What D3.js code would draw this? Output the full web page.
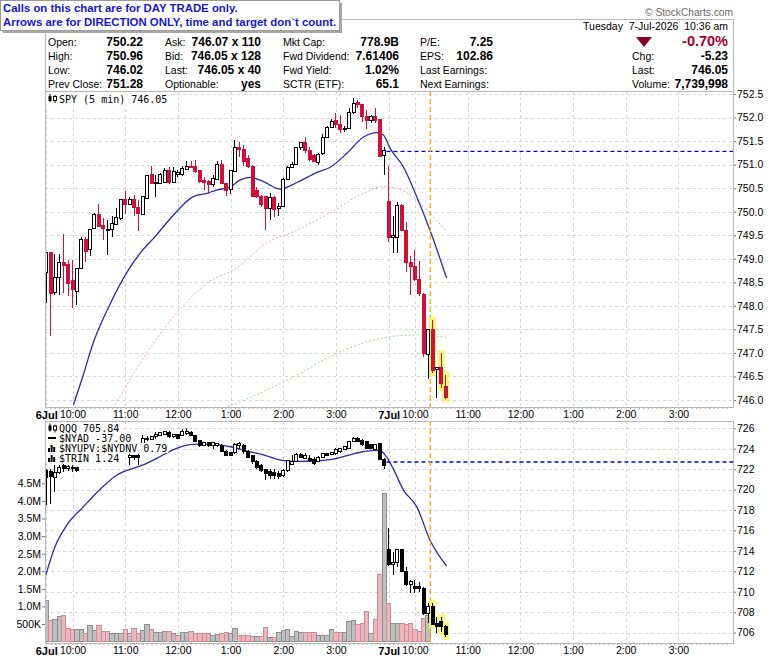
<!DOCTYPE html>
<html lang="en">
<head>
<meta charset="UTF-8">
<title>SPY 5 min - day trade chart</title>
<style>
body { margin: 0; background: #fff; }
svg text { font-family: 'Liberation Sans', Arial, sans-serif; }
.mono { font-family: 'DejaVu Sans Mono', monospace; font-size: 10px; }
</style>
</head>
<body>
<div id="vis"></div>
<script src="https://d3js.org/d3.v7.min.js"></script>
<script>

// ---- data ----
// bar index t = number of 5-minute bars since 6 Jul 9:30 (7 Jul 9:30 = 78)

// SPY 5 min candles [open, high, low, close]
const spyOHLC = [
[748.71,749.14,748.06,749.14],[749.14,749.14,747.37,748.27],[748.28,749.10,748.23,748.61],[748.61,749.10,748.23,748.93],
[748.93,749.53,748.27,748.86],[748.87,748.98,748.21,748.48],[748.53,748.98,747.95,748.34],[748.30,748.80,748.02,748.80],
[748.80,749.47,748.80,749.40],[749.40,749.47,748.94,749.15],[749.19,749.63,749.05,749.63],[749.65,749.98,749.63,749.93],
[749.93,750.16,749.67,749.68],[749.70,749.86,749.40,749.64],[749.62,749.82,749.07,749.63],[749.63,749.90,749.47,749.75],
[749.73,750.07,749.72,749.88],[749.86,750.26,749.82,750.26],[750.26,750.43,749.95,750.16],[750.16,750.32,750.15,750.25],
[750.25,750.35,749.91,750.09],[750.09,750.25,749.58,749.97],[749.95,750.33,749.95,750.33],[750.28,750.78,750.28,750.77],
[750.78,750.96,750.59,750.60],[750.59,750.78,750.32,750.62],[750.60,750.82,750.58,750.80],[750.62,750.92,750.60,750.87],
[750.87,750.94,750.59,750.62],[750.62,750.94,750.60,750.85],[750.80,750.89,750.74,750.83],[750.80,750.97,750.76,750.92],
[750.90,751.08,750.89,750.97],[750.97,751.08,750.92,750.94],[750.97,751.10,750.83,750.85],[750.87,750.89,750.60,750.64],
[750.67,750.74,750.46,750.62],[750.64,750.67,750.37,750.57],[750.58,750.78,750.53,750.71],[750.69,751.08,750.67,751.01],
[751.01,751.10,750.59,750.60],[750.60,750.62,750.33,750.46],[750.48,750.89,750.37,750.87],[750.85,751.52,750.85,751.37],
[751.37,751.47,751.17,751.33],[751.33,751.42,750.96,751.06],[751.13,751.20,750.92,750.97],[750.97,750.99,750.32,750.32],
[750.46,750.53,750.30,750.32],[750.32,750.35,750.10,750.15],[750.32,750.33,749.61,750.07],[750.07,750.39,749.82,750.31],
[750.31,750.33,749.88,750.05],[750.07,750.18,749.91,750.12],[750.12,750.71,750.10,750.69],[750.69,750.96,750.67,750.94],
[750.94,751.06,750.92,751.01],[751.01,751.38,750.99,751.37],[751.37,751.47,751.30,751.47],[751.47,751.59,751.24,751.31],
[751.31,751.37,751.08,751.10],[751.20,751.22,751.06,751.06],[751.04,751.24,750.99,751.22],[751.23,751.66,751.20,751.58],
[751.58,751.82,751.56,751.79],[751.79,751.96,751.77,751.91],[751.93,752.10,751.77,751.86],[751.86,752.05,751.68,751.75],
[751.74,751.82,751.70,751.77],[751.77,752.20,751.75,752.10],[752.10,752.41,752.08,752.29],[752.32,752.37,752.20,752.27],
[752.27,752.29,751.91,752.02],[752.03,752.16,751.75,751.93],[751.93,752.05,751.88,752.03],[752.03,752.20,751.88,751.93],
[751.95,751.96,751.17,751.18],[751.20,751.38,750.78,751.29],
[750.22,750.96,749.36,749.45],[749.45,749.91,749.13,749.49],[749.46,750.21,749.13,750.14],[750.14,750.16,749.58,749.60],
[749.59,749.79,748.71,748.92],[748.92,749.05,748.23,748.83],[748.83,749.19,748.53,748.57],[748.57,748.96,748.21,748.27],
[748.25,748.27,746.92,746.99],[746.97,747.49,746.44,747.49],[747.49,747.70,746.57,746.62],[746.64,746.70,746.04,746.70],
[746.70,746.99,746.25,746.36],[746.29,746.53,746.02,746.05]
];

// QQQ 5 min candles [open, high, low, close]
const qqqOHLC = [
[721.88,722.00,718.46,721.23],[721.80,722.05,718.62,721.30],[721.23,722.44,719.76,721.72],[721.72,722.44,721.56,722.21],
[722.37,722.54,721.72,722.05],[722.05,722.44,721.79,722.30],[722.21,722.37,721.72,722.05],[722.21,722.21,721.72,721.88],
[722.70,723.90,722.65,723.60],[723.60,724.30,723.40,724.10],[724.10,724.40,723.70,723.90],[723.90,724.60,723.80,724.40],
[724.40,725.00,724.30,724.80],[724.80,725.00,724.20,724.40],[724.40,724.60,723.90,724.10],[724.10,724.50,723.90,724.30],
[724.30,724.50,723.80,724.00],[724.00,724.40,723.80,724.20],[724.20,724.80,723.70,723.80],[723.19,723.52,722.37,723.35],
[723.35,723.42,722.86,723.19],[723.35,723.48,722.37,723.16],[724.20,725.31,723.90,725.05],[725.05,725.20,724.80,724.92],
[724.92,725.25,724.85,725.20],[725.20,725.64,725.00,725.38],[725.31,725.60,725.20,725.57],[725.44,725.70,725.30,725.64],
[725.57,725.70,725.05,725.15],[725.15,725.44,725.05,725.38],[725.38,725.45,724.98,725.05],[725.31,725.96,725.25,725.64],
[725.47,726.00,725.35,725.64],[725.57,725.70,725.20,725.25],[725.25,725.31,724.66,724.72],[724.82,724.90,724.20,724.33],
[724.33,724.66,724.25,724.59],[724.59,724.66,724.20,724.27],[724.27,724.66,724.00,724.59],[724.33,724.50,724.17,724.50],
[724.27,724.50,723.68,723.75],[723.68,723.84,723.26,723.35],[723.61,723.70,723.26,723.35],[723.61,724.59,723.52,724.40],
[724.27,724.66,724.01,724.50],[724.27,724.50,723.52,723.68],[723.75,723.84,723.09,723.19],[723.35,723.42,722.54,722.77],
[722.77,722.86,722.05,722.21],[722.37,722.54,721.72,721.88],[721.98,722.05,720.91,721.56],[721.79,722.05,721.07,721.39],
[721.72,722.05,721.07,721.39],[721.56,721.79,721.00,721.33],[721.39,722.05,721.23,721.88],[721.88,722.86,721.70,722.86],
[722.44,723.42,722.37,722.77],[722.77,723.61,722.70,723.42],[723.42,723.61,723.09,723.19],[723.09,723.61,722.96,723.35],
[723.09,723.35,722.70,722.86],[722.96,723.19,722.44,722.54],[722.77,723.26,722.70,723.19],[723.19,723.52,723.09,723.52],
[723.52,723.61,723.26,723.35],[723.42,723.70,723.35,723.61],[723.52,724.07,723.35,723.94],[723.68,724.10,723.60,724.01],
[723.94,724.30,723.90,724.17],[724.07,724.75,724.00,724.72],[724.72,725.15,724.66,725.05],[724.98,725.10,724.66,724.72],
[724.82,724.92,724.27,724.40],[724.66,724.72,723.94,724.01],[724.40,724.50,723.94,724.01],[723.94,724.50,723.84,724.40],
[724.50,724.59,722.86,722.96],[722.96,723.09,722.05,722.37],
[714.09,716.21,712.50,712.62],[712.62,713.92,711.64,712.84],[712.84,714.15,712.45,714.09],[714.09,714.20,711.90,711.96],
[711.96,712.45,710.60,710.66],[710.66,711.15,709.85,710.98],[710.50,711.15,709.90,710.34],[710.50,710.98,710.00,710.34],
[710.34,710.50,707.70,707.89],[707.89,708.87,706.91,708.54],[708.60,708.90,706.70,706.75],[706.90,707.56,705.93,706.60],
[707.07,707.56,706.09,706.58],[706.58,706.75,705.60,705.84]
];

// SPY volume per bar, millions
const spyVolume = [
1.18,0.59,0.64,0.70,0.73,0.38,0.33,0.35,0.35,0.24,
0.45,0.31,0.46,0.30,0.30,0.22,0.24,0.24,0.35,0.24,
0.38,0.24,0.31,0.49,0.33,0.26,0.26,0.30,0.28,0.24,
0.17,0.26,0.25,0.30,0.24,0.24,0.22,0.22,0.17,0.19,
0.22,0.26,0.24,0.38,0.18,0.17,0.17,0.14,0.14,0.14,
0.40,0.11,0.11,0.26,0.31,0.33,0.14,0.28,0.25,0.25,
0.25,0.25,0.18,0.18,0.18,0.33,0.26,0.26,0.26,0.57,
0.59,0.49,0.52,0.85,0.22,0.64,1.91,4.20,1.09,0.52,
0.52,0.52,0.49,0.52,0.35,0.28,0.66,0.75
];

// moving averages, sampled [bar, value]
const spyMaT = [6.2,8.1,10.7,14.1,18.7,21.4,24.8,29.0,33.5,36.6,38.8,41.9,44.1,46.4,49.5,53.3,57.1,61.6,64.6,68.5,72.2,75.3,76.8,78.3,81.3,84.4,87.4,91.2];
const spyMaV = [745.90,746.43,747.21,747.95,748.76,749.12,749.47,749.93,750.32,750.39,750.46,750.52,750.67,750.73,750.64,750.48,750.62,750.83,750.94,751.24,751.58,751.68,751.63,751.35,750.96,750.32,749.61,748.59];
const spyMa2T = [15.3,21.4,29.0,36.6,44.1,49.5,57.1,64.6,72.2,76.8,79.8,84.4,87.4,91.2];
const spyMa2V = [745.83,746.78,747.77,748.48,748.85,749.29,749.61,749.97,750.39,750.53,750.50,750.25,749.97,749.58];
const spyMa3T = [40.5,49.5,57.1,64.6,72.2,79.8,84.4,91.2];
const spyMa3V = [745.83,746.18,746.53,746.92,747.21,747.36,747.38,747.33];
const qqqMaT = [-0.3,2.0,4.7,8.5,12.3,16.1,19.8,22.1,25.2,29.7,33.5,37.3,42.3,46.0,49.8,53.6,57.4,61.2,65.0,68.8,71.9,74.9,76.4,77.5,79.1,81.3,84.4,87.4,91.2];
const qqqMaV = [711.32,714.41,716.53,718.33,720.03,721.43,722.08,722.41,723.06,724.04,724.43,724.46,724.17,723.75,723.36,722.87,722.77,722.80,722.96,723.36,723.68,723.84,723.74,723.20,722.00,720.00,718.33,715.07,712.52];

const spyPrevClose = 751.28;
const qqqPrevClose = 722.7;
const dayStartT = 77.5;
const signalT = 87.5;
const highlightBars = [88, 90, 91];

// axes
const spyTicks = [746,746.5,747,747.5,748,748.5,749,749.5,750,750.5,751,751.5,752,752.5];
const qqqTicks = [706,708,710,712,714,716,718,720,722,724,726];
const volTicks = [0.5,1,1.5,2,2.5,3,3.5,4,4.5];
const volLabels = ["500K","1.0M","1.5M","2.0M","2.5M","3.0M","3.5M","4.0M","4.5M"];
const timeT = [0,6,18,30,42,54,66,78,84,96,108,120,132,144];
const timeLabels = ["6Jul","10:00","11:00","12:00","1:00","2:00","3:00","7Jul","10:00","11:00","12:00","1:00","2:00","3:00"];

// header
const notice = ["Calls on this chart are for DAY TRADE only.", "Arrows are for DIRECTION ONLY, time and target don`t count."];
const headLabels = [
  ["Open:","High:","Low:","Prev Close:"],
  ["Ask:","Bid:","Last:","Optionable:"],
  ["Mkt Cap:","Fwd Dividend:","Fwd Yield:","SCTR (ETF):"],
  ["P/E:","EPS:","Last Earnings:","Next Earnings:"],
  ["","Chg:","Last:","Volume:"]
];
const headValues = [
  ["750.22","750.96","746.02","751.28"],
  ["746.07 x 110","746.05 x 128","746.05 x 40","yes"],
  ["778.9B","7.61406","1.02%","65.1"],
  ["7.25","102.86","",""],
  ["-0.70%","-5.23","746.05","7,739,998"]
];
const dateText = "Tuesday  7-Jul-2026  10:36 am";
const spyLegend = "SPY (5 min) 746.05";
const qqqLegend = ["QQQ 705.84", "$NYAD -37.00", "$NYUPV:$NYDNV 0.79", "$TRIN 1.24"];

// ---- drawing ----
const width = 780, height = 659;
const frameL = 45, frameR = 733;
const p1 = {top: 91, bottom: 407};
const p2 = {top: 421, bottom: 643};
const red = "#d0103a", blue = "#2c2ca6";

const x = d3.scaleLinear().domain([0, 144]).range([46.2, 678.4]);
const ySpy = d3.scaleLinear().domain([746, 752.5]).range([400, 94]);
const yQqq = d3.scaleLinear().domain([706, 726]).range([632.6, 428.3]);
const yVol = d3.scaleLinear().domain([0, 4.5]).range([641.6, 483.3]);
const step = x(1) - x(0);

let svg = d3.select("#vis").append("svg")
    .attr("width", width)
    .attr("height", height);

let defs = svg.append("defs");
[["clip1", p1], ["clip2", p2]].forEach(function(c){
  defs.append("clipPath").attr("id", c[0]).append("rect")
    .attr("x", frameL).attr("y", c[1].top)
    .attr("width", frameR - frameL).attr("height", c[1].bottom - c[1].top);
});

function grid(g, yScale, ticks, p) {
  g.selectAll(null).data(timeT).enter().append("line")
    .attr("x1", d => Math.round(x(d)) + 0.5).attr("x2", d => Math.round(x(d)) + 0.5)
    .attr("y1", p.top).attr("y2", p.bottom)
    .attr("stroke", "#d6d6d6").attr("stroke-dasharray", "3,3");
  g.selectAll(null).data(ticks).enter().append("line")
    .attr("x1", frameL).attr("x2", frameR)
    .attr("y1", d => Math.round(yScale(d)) + 0.5).attr("y2", d => Math.round(yScale(d)) + 0.5)
    .attr("stroke", "#d6d6d6").attr("stroke-dasharray", "3,3");
}

function maLine(g, ts, vs, yScale, color, dash, w) {
  g.append("path")
    .datum(d3.zip(ts, vs))
    .attr("fill", "none")
    .attr("stroke", color)
    .attr("stroke-width", w)
    .attr("stroke-dasharray", dash)
    .attr("d", d3.line().x(d => x(d[0])).y(d => yScale(d[1])).curve(d3.curveMonotoneX));
}

function highlights(g, data, yScale) {
  g.selectAll(null).data(highlightBars).enter().append("rect")
    .attr("x", i => x(i) - 3.5).attr("width", 7)
    .attr("y", i => yScale(data[i][1]) - 3)
    .attr("height", i => yScale(data[i][2]) - yScale(data[i][1]) + 6)
    .attr("fill", "#f5f56e").attr("opacity", 0.9);
}

function candles(g, data, yScale, downColor) {
  let c = g.append("g").attr("shape-rendering", "crispEdges")
    .selectAll("g").data(data).enter().append("g");
  c.append("line")
    .attr("x1", (d, i) => x(i)).attr("x2", (d, i) => x(i))
    .attr("y1", d => yScale(d[1])).attr("y2", d => yScale(d[2]))
    .attr("stroke", d => d[3] < d[0] ? downColor : "#000");
  c.append("rect")
    .attr("x", (d, i) => x(i) - 1.5).attr("width", 3)
    .attr("y", d => yScale(Math.max(d[0], d[3])))
    .attr("height", d => Math.max(1, Math.abs(yScale(d[0]) - yScale(d[3]))))
    .attr("fill", d => d[3] < d[0] ? downColor : "#fff")
    .attr("stroke", d => d[3] < d[0] ? downColor : "#000");
}

function hLine(g, value, yScale) {
  g.append("line")
    .attr("x1", x(dayStartT)).attr("x2", frameR)
    .attr("y1", yScale(value)).attr("y2", yScale(value))
    .attr("stroke", "#0000ee").attr("stroke-width", 1.3).attr("stroke-dasharray", "4,3");
}

function vLine(g, p) {
  g.append("line")
    .attr("x1", x(signalT)).attr("x2", x(signalT))
    .attr("y1", p.top).attr("y2", p.bottom)
    .attr("stroke", "#f5b800").attr("stroke-width", 1.4).attr("stroke-dasharray", "5,3");
}

function candleIcon(g, cx, cy) {
  g.append("line").attr("x1", cx + 1.5).attr("x2", cx + 1.5).attr("y1", cy - 5).attr("y2", cy + 3).attr("stroke", "#000");
  g.append("rect").attr("x", cx).attr("y", cy - 3).attr("width", 3).attr("height", 5).attr("fill", "#000");
  g.append("line").attr("x1", cx + 6.5).attr("x2", cx + 6.5).attr("y1", cy - 4).attr("y2", cy + 4).attr("stroke", "#000");
  g.append("rect").attr("x", cx + 5).attr("y", cy - 2.5).attr("width", 3).attr("height", 4).attr("fill", "#fff").attr("stroke", "#000");
}

function barIcon(g, cx, cy) {
  [4, 7, 5].forEach(function(h, k){
    g.append("rect").attr("x", cx + k * 2.6).attr("y", cy + 3 - h).attr("width", 2).attr("height", h).attr("fill", "#000");
  });
}

// ---- top panel: SPY ----
let g1 = svg.append("g");
grid(g1, ySpy, spyTicks, p1);
let c1 = g1.append("g").attr("clip-path", "url(#clip1)");
maLine(c1, spyMa3T, spyMa3V, ySpy, "#a9d0a9", "2,2", 1);
maLine(c1, spyMa2T, spyMa2V, ySpy, "#eaaabb", "2,2", 1);
maLine(c1, spyMaT, spyMaV, ySpy, blue, null, 1.3);
hLine(c1, spyPrevClose, ySpy);
vLine(c1, p1);
highlights(c1, spyOHLC, ySpy);
candles(c1, spyOHLC, ySpy, red);

let leg1 = g1.append("g");
let t1 = leg1.append("text").attr("class", "mono").attr("x", 59).attr("y", 103).text(spyLegend);
leg1.insert("rect", "text").attr("x", 46).attr("y", 93).attr("width", t1.node().getComputedTextLength() + 15).attr("height", 12).attr("fill", "#fff");
candleIcon(leg1, 48.5, 99);

// ---- bottom panel: QQQ + volume ----
let g2 = svg.append("g");
grid(g2, yQqq, qqqTicks, p2);
let c2 = g2.append("g").attr("clip-path", "url(#clip2)");
c2.append("g").attr("shape-rendering", "crispEdges")
  .selectAll("rect").data(spyVolume).enter().append("rect")
  .attr("x", (d, i) => x(i) - step / 2).attr("width", step)
  .attr("y", d => yVol(d)).attr("height", d => yVol(0) - yVol(d))
  .attr("fill", (d, i) => i > 0 && spyOHLC[i][3] < spyOHLC[i - 1][3] ? "#ebb7bd" : "#bfbfbf")
  .attr("stroke", (d, i) => i > 0 && spyOHLC[i][3] < spyOHLC[i - 1][3] ? "#cf8d95" : "#8e8e8e");
maLine(c2, qqqMaT, qqqMaV, yQqq, blue, null, 1.3);
hLine(c2, qqqPrevClose, yQqq);
vLine(c2, p2);
highlights(c2, qqqOHLC, yQqq);
candles(c2, qqqOHLC, yQqq, "#000");

let leg2 = g2.append("g");
qqqLegend.forEach(function(s, k){
  let by = 432 + k * 10;
  let t = leg2.append("text").attr("class", "mono").attr("x", 59).attr("y", by).text(s);
  leg2.insert("rect", "text").attr("x", 46).attr("y", by - 9).attr("width", t.node().getComputedTextLength() + 14).attr("height", 10).attr("fill", "#fff");
});
candleIcon(leg2, 48.5, 428.5);
leg2.append("rect").attr("x", 48).attr("y", 437).attr("width", 8).attr("height", 2).attr("fill", "#000");
barIcon(leg2, 48, 449);
barIcon(leg2, 48, 459);

// ---- axes ----
function styleAxis(a, size) {
  a.attr("font-family", "'Liberation Sans', Arial, sans-serif").attr("font-size", size);
  a.select(".domain").remove();
  a.selectAll("line").attr("stroke", "#777");
  a.selectAll("text").attr("fill", "#000");
}

let axR1 = svg.append("g").attr("transform", "translate(" + frameR + ",0)")
  .call(d3.axisRight(ySpy).tickValues(spyTicks).tickFormat(d3.format(".1f")).tickSize(3).tickPadding(1));
styleAxis(axR1, 10.5);
let axR2 = svg.append("g").attr("transform", "translate(" + frameR + ",0)")
  .call(d3.axisRight(yQqq).tickValues(qqqTicks).tickFormat(d3.format("d")).tickSize(3).tickPadding(1));
styleAxis(axR2, 10.5);
let axV = svg.append("g").attr("transform", "translate(" + frameL + ",0)")
  .call(d3.axisLeft(yVol).tickValues(volTicks).tickFormat((d, i) => volLabels[i]).tickSize(3).tickPadding(1));
styleAxis(axV, 10.5);

[p1.bottom, p2.bottom].forEach(function(yb){
  let minor = svg.append("g").attr("transform", "translate(0," + yb + ")")
    .call(d3.axisBottom(x).tickValues(d3.range(0, 156)).tickSize(2).tickFormat(""));
  minor.select(".domain").remove();
  minor.selectAll("line").attr("stroke", "#aaa");
  let ax = svg.append("g").attr("transform", "translate(0," + yb + ")")
    .call(d3.axisBottom(x).tickValues(timeT).tickFormat((d, i) => timeLabels[i]).tickSize(0).tickPadding(4));
  styleAxis(ax, 10.5);
  ax.selectAll("text")
    .attr("font-weight", (d, i) => timeLabels[i].indexOf("Jul") > 0 ? "bold" : null)
    .attr("font-size", (d, i) => timeLabels[i].indexOf("Jul") > 0 ? 11 : 10.5);
});

// frames
[p1, p2].forEach(function(p){
  svg.append("rect").attr("x", frameL + 0.5).attr("y", p.top + 0.5)
    .attr("width", frameR - frameL).attr("height", p.bottom - p.top)
    .attr("fill", "none").attr("stroke", "#b8b8b8");
});

// ---- header ----
let hd = svg.append("g");
hd.append("path").attr("d", "M" + (frameL + 0.5) + "," + p1.top + "V19.5H" + (frameR + 0.5) + "V" + p1.top)
  .attr("fill", "none").attr("stroke", "#b8b8b8");

const colX = [48, 165, 283, 420, 632];
const valX = [143, 261, 399, 493, 728];
headLabels.forEach(function(col, c){
  col.forEach(function(s, r){
    let by = 45.5 + r * 14.3;
    hd.append("text").attr("x", colX[c]).attr("y", by).attr("font-size", 10.5).text(s);
    let v = headValues[c][r];
    hd.append("text").attr("x", valX[c]).attr("y", by)
      .attr("text-anchor", "end")
      .attr("font-weight", "bold")
      .attr("font-size", (c === 4 && r === 0) ? 14.5 : 12)
      .attr("fill", (c === 4 && r === 0) ? "#a3002d" : "#000")
      .text(v);
  });
});
hd.append("path").attr("d", "M636,37H652L644,47Z").attr("fill", "#8c0026");
hd.append("text").attr("x", 728).attr("y", 30).attr("text-anchor", "end")
  .attr("font-size", 10.5).style("white-space", "pre").text(dateText);
hd.append("text").attr("x", 733).attr("y", 15.5).attr("text-anchor", "end")
  .attr("font-family", "'DejaVu Sans', sans-serif").attr("font-size", 10.2)
  .attr("fill", "#6a6a6a").text("\u00a9 StockCharts.com");

// notice box
hd.append("rect").attr("x", 3).attr("y", 3).attr("width", 339).attr("height", 30).attr("fill", "#a8a8a8");
hd.append("rect").attr("x", 0.5).attr("y", 0.5).attr("width", 339).attr("height", 30).attr("fill", "#fff").attr("stroke", "#9a9a9a");
notice.forEach(function(s, k){
  hd.append("text").attr("x", 3).attr("y", 12 + k * 13.5)
    .attr("font-size", 11.4).attr("font-weight", "bold").attr("fill", "#1616d6").text(s);
});

</script>
</body>
</html>
